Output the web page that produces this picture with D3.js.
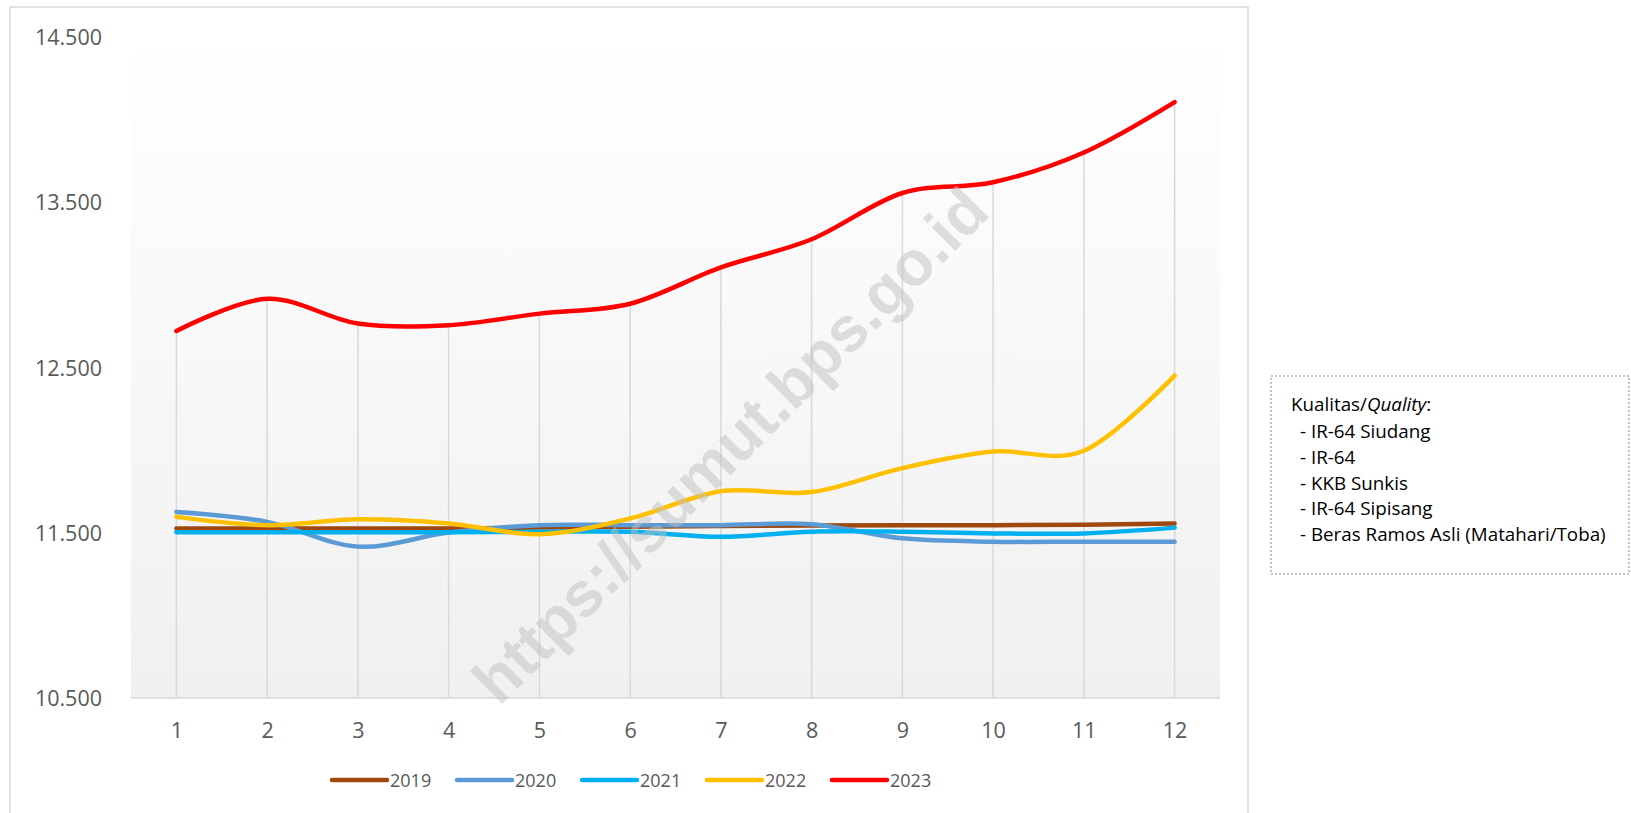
<!DOCTYPE html>
<html>
<head>
<meta charset="utf-8">
<script src="https://cdn.jsdelivr.net/npm/d3@7"></script>
<style>
  body { margin: 0; background: #fff; }
  svg { display: block; font-family: "Open Sans", sans-serif; }
</style>
</head>
<body>
<svg id="chart" width="1631" height="813"></svg>
<script>
// months on the x axis
var months = ["1", "2", "3", "4", "5", "6", "7", "8", "9", "10", "11", "12"];
var yTicks = [10500, 11500, 12500, 13500, 14500];

// price per year
var v2019 = [11520, 11520, 11520, 11520, 11525, 11530, 11535, 11538, 11540, 11540, 11543, 11550];
var v2020 = [11620, 11560, 11410, 11495, 11540, 11540, 11540, 11545, 11460, 11440, 11440, 11440];
var v2021 = [11497, 11497, 11497, 11497, 11500, 11500, 11470, 11500, 11500, 11490, 11490, 11525];
var v2022 = [11590, 11540, 11575, 11550, 11485, 11580, 11745, 11740, 11885, 11985, 11990, 12445];
var v2023 = [12715, 12910, 12760, 12750, 12820, 12880, 13100, 13270, 13550, 13615, 13795, 14100];

var years = ["2019", "2020", "2021", "2022", "2023"];
var colors = ["#9e480e", "#5b9bd5", "#00b0f0", "#ffc000", "#ff0000"];

var qualityTitle = "Kualitas/";
var qualityItalic = "Quality";
var qualities = ["- IR-64 Siudang", "- IR-64", "- KKB Sunkis", "- IR-64 Sipisang", "- Beras Ramos Asli (Matahari/Toba)"];

var series = [v2019, v2020, v2021, v2022, v2023].map(function (vals, i) {
  return { name: years[i], color: colors[i], values: vals };
});

var svg = d3.select("#chart");
var plot = { left: 131, right: 1220, top: 36, bottom: 698 };

var loc = d3.formatLocale({ decimal: ",", thousands: ".", grouping: [3], currency: ["", ""] });
var fmt = loc.format(",");

var x = d3.scalePoint()
  .domain(months)
  .range([plot.left, plot.right])
  .padding(0.5);

var y = d3.scaleLinear()
  .domain([10500, 14500])
  .range([697, 36]);

// chart border
svg.append("rect")
  .attr("x", 10).attr("y", 7)
  .attr("width", 1238).attr("height", 900)
  .attr("fill", "#fff")
  .attr("stroke", "#d9d9d9")
  .attr("stroke-width", 1.5);

// plot area gradient
var grad = svg.append("defs").append("linearGradient")
  .attr("id", "bg").attr("x1", 0).attr("y1", 0).attr("x2", 0).attr("y2", 1);
grad.append("stop").attr("offset", "0%").attr("stop-color", "#ffffff");
grad.append("stop").attr("offset", "100%").attr("stop-color", "#f0f0f0");

svg.append("rect")
  .attr("x", plot.left).attr("y", plot.top)
  .attr("width", plot.right - plot.left)
  .attr("height", plot.bottom - plot.top)
  .attr("fill", "url(#bg)");

// drop lines from the highest point of each month
svg.append("g").selectAll("line")
  .data(months)
  .join("line")
  .attr("x1", function (d) { return x(d); })
  .attr("x2", function (d) { return x(d); })
  .attr("y1", function (d, i) { return y(d3.max(series, function (s) { return s.values[i]; })); })
  .attr("y2", plot.bottom)
  .attr("stroke", "#d9d9d9")
  .attr("stroke-width", 1.5);

// x axis
var xAxis = svg.append("g")
  .attr("transform", "translate(0," + plot.bottom + ")")
  .call(d3.axisBottom(x).tickSize(0).tickPadding(22));
xAxis.select(".domain")
  .attr("d", "M" + plot.left + ",0H" + plot.right)
  .attr("stroke", "#d9d9d9")
  .attr("stroke-width", 1.5);
xAxis.selectAll("text")
  .attr("font-size", "21.5px")
  .attr("font-family", "Open Sans")
  .attr("fill", "#595959")
  .attr("dy", null)
  .attr("y", 31)
  .attr("dominant-baseline", "central");

// y axis, labels only
var yAxis = svg.append("g")
  .attr("transform", "translate(102,0)")
  .call(d3.axisLeft(y).tickValues(yTicks).tickFormat(fmt).tickSize(0).tickPadding(0));
yAxis.select(".domain").remove();
yAxis.selectAll("text")
  .attr("font-size", "21.5px")
  .attr("font-family", "Open Sans")
  .attr("fill", "#595959")
  .attr("dy", null)
  .attr("dominant-baseline", "central");

// lines
var line = d3.line()
  .x(function (d, i) { return x(months[i]); })
  .y(function (d) { return y(d); })
  .curve(d3.curveCardinal.tension(0));

svg.append("g").selectAll("path")
  .data(series)
  .join("path")
  .attr("d", function (d) { return line(d.values); })
  .attr("fill", "none")
  .attr("stroke", function (d) { return d.color; })
  .attr("stroke-width", 4.5)
  .attr("stroke-linecap", "round")
  .attr("stroke-linejoin", "round");

// watermark
svg.append("text")
  .attr("transform", "translate(730,445) rotate(-45)")
  .attr("text-anchor", "middle")
  .attr("dominant-baseline", "central")
  .attr("font-family", "Liberation Sans")
  .attr("font-weight", "bold")
  .attr("font-size", "63px")
  .attr("fill", "#bfbfbf")
  .attr("fill-opacity", 0.5)
  .text("https://sumut.bps.go.id");

// bottom legend
var leg = svg.append("g").selectAll("g")
  .data(series)
  .join("g")
  .attr("transform", function (d, i) { return "translate(" + (332 + i * 125) + ",780)"; });
leg.append("line")
  .attr("x1", 0).attr("x2", 55)
  .attr("stroke", function (d) { return d.color; })
  .attr("stroke-width", 4.5)
  .attr("stroke-linecap", "round");
leg.append("text")
  .attr("x", 58)
  .attr("dominant-baseline", "central")
  .attr("font-size", "18px")
  .attr("fill", "#595959")
  .text(function (d) { return d.name; });

// quality note box
svg.append("rect")
  .attr("x", 1271).attr("y", 376)
  .attr("width", 358).attr("height", 198)
  .attr("fill", "#fff")
  .attr("stroke", "#b0b0b0")
  .attr("stroke-width", 1.5)
  .attr("stroke-dasharray", "2,2");

var title = svg.append("text")
  .attr("x", 1291).attr("y", 404)
  .attr("dominant-baseline", "central")
  .attr("font-size", "18.8px")
  .attr("fill", "#000");
title.append("tspan").text(qualityTitle);
title.append("tspan").attr("font-style", "italic").text(qualityItalic);
title.append("tspan").text(":");

svg.append("g").selectAll("text")
  .data(qualities)
  .join("text")
  .attr("x", 1300)
  .attr("y", function (d, i) { return 431 + i * 25.8; })
  .attr("dominant-baseline", "central")
  .attr("font-size", "18.8px")
  .attr("fill", "#000")
  .text(function (d) { return d; });
</script>
</body>
</html>
